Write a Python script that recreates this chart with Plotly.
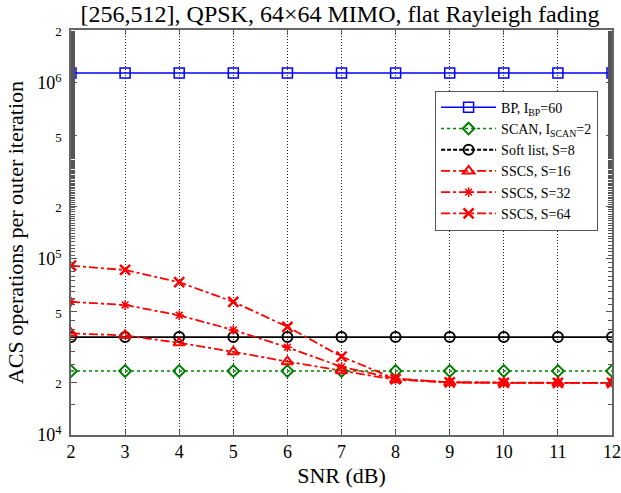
import plotly.graph_objects as go

snr = [2, 3, 4, 5, 6, 7, 8, 9, 10, 11, 12]
bp = [1.14e6] * 11
scan = [2.31e4] * 11
soft_list = [3.6e4] * 11
sscs16 = [3.78e4, 3.68e4, 3.34e4, 2.97e4, 2.61e4, 2.32e4, 2.06e4, 1.99e4, 1.98e4, 1.98e4, 1.98e4]
sscs32 = [5.71e4, 5.48e4, 4.79e4, 3.95e4, 3.15e4, 2.44e4, 2.09e4, 1.99e4, 1.98e4, 1.98e4, 1.98e4]
sscs64 = [9.16e4, 8.66e4, 7.38e4, 5.71e4, 4.12e4, 2.79e4, 2.08e4, 1.99e4, 1.98e4, 1.98e4, 1.98e4]

ytick_vals = [1e4, 2e4, 5e4, 1e5, 2e5, 5e5, 1e6, 2e6]
small = "<span style='font-size:13px'>%s</span>"
ytick_text = ["10<sup>4</sup>", small % "2", small % "5", "10<sup>5</sup>",
              small % "2", small % "5", "10<sup>6</sup>", small % "2"]

red = "rgb(255,0,0)"
fig = go.Figure()
fig.add_trace(go.Scatter(x=snr, y=bp, name="BP, I<sub>BP</sub>=60", mode="lines+markers",
                         line=dict(color="rgb(0,0,255)", width=1.5),
                         marker=dict(symbol="square-open", size=10, color="rgb(0,0,255)", line=dict(width=1.5))))
fig.add_trace(go.Scatter(x=snr, y=scan, name="SCAN, I<sub>SCAN</sub>=2", mode="lines+markers",
                         line=dict(color="rgb(0,128,0)", width=1.5, dash="dot"),
                         marker=dict(symbol="diamond-open", size=9, color="rgb(0,128,0)", line=dict(width=2))))
fig.add_trace(go.Scatter(x=snr, y=soft_list, name="Soft list, S=8", mode="lines+markers",
                         line=dict(color="black", width=1.8), showlegend=False,
                         marker=dict(symbol="circle-open", size=10, color="black", line=dict(width=2))))
fig.add_trace(go.Scatter(x=[None], y=[None], name="Soft list, S=8", mode="lines+markers",
                         line=dict(color="black", width=1.8, dash="4px,2px"),
                         marker=dict(symbol="circle-open", size=10, color="black", line=dict(width=2))))
fig.add_trace(go.Scatter(x=snr, y=sscs16, name="SSCS, S=16", mode="lines+markers",
                         line=dict(color=red, width=1.8, dash="dashdot"),
                         marker=dict(symbol="triangle-up-open", size=10, color=red, line=dict(width=2))))
fig.add_trace(go.Scatter(x=snr, y=sscs32, name="SSCS, S=32", mode="lines+markers",
                         line=dict(color=red, width=1.8, dash="dashdot"),
                         marker=dict(symbol="asterisk-open", size=8, color=red, line=dict(width=1.5, color=red))))
fig.add_trace(go.Scatter(x=snr, y=sscs64, name="SSCS, S=64", mode="lines+markers",
                         line=dict(color=red, width=1.8, dash="dashdot"),
                         marker=dict(symbol="x-thin-open", size=10, color=red, line=dict(width=2.5, color=red))))

font = "Liberation Serif"
fig.update_layout(
    width=621, height=493,
    margin=dict(l=71, r=9, t=30, b=58, autoexpand=False),
    paper_bgcolor="white", plot_bgcolor="white",
    font=dict(family=font, size=18, color="black"),
    title=dict(text="[256,512], QPSK, 64×64 MIMO, flat Rayleigh fading", x=0.5475, xanchor="center",
               y=0.972, yanchor="middle", font=dict(family=font, size=24)),
    showlegend=True,
    legend=dict(x=0.673, y=0.85, xanchor="left", yanchor="top", bgcolor="white",
                bordercolor="#555555", borderwidth=1, font=dict(family=font, size=14),
                tracegroupgap=0, itemwidth=55),
)
fig.update_xaxes(range=[2, 12], tickvals=snr, ticks="inside", ticklen=5, tickcolor="#555555",
                 tickfont=dict(family=font, size=18), automargin=False,
                 showline=True, linecolor="#666666", linewidth=1.5, mirror="ticks",
                 showgrid=True, gridcolor="#222222", griddash="1px,2px", gridwidth=0.8,
                 zeroline=False, title=dict(text="SNR (dB)", font=dict(family=font, size=22), standoff=6))
fig.update_yaxes(type="log", range=[4, 6.30103], tickvals=ytick_vals, ticktext=ytick_text,
                 tickfont=dict(family=font, size=18), automargin=False, ticklabelstandoff=4,
                 ticks="inside", ticklen=6, tickcolor="#555555",
                 minor=dict(ticks="inside", ticklen=4, tickcolor="#555555", showgrid=False),
                 showline=True, linecolor="#666666", linewidth=1.5, mirror="ticks",
                 showgrid=False, zeroline=False,
                 title=dict(text="ACS operations per outer iteration", font=dict(family=font, size=22), standoff=8))
fig.write_html("out.html", config={"displayModeBar": False},
               post_script="document.body.style.margin='0';document.body.style.overflow='hidden';")
